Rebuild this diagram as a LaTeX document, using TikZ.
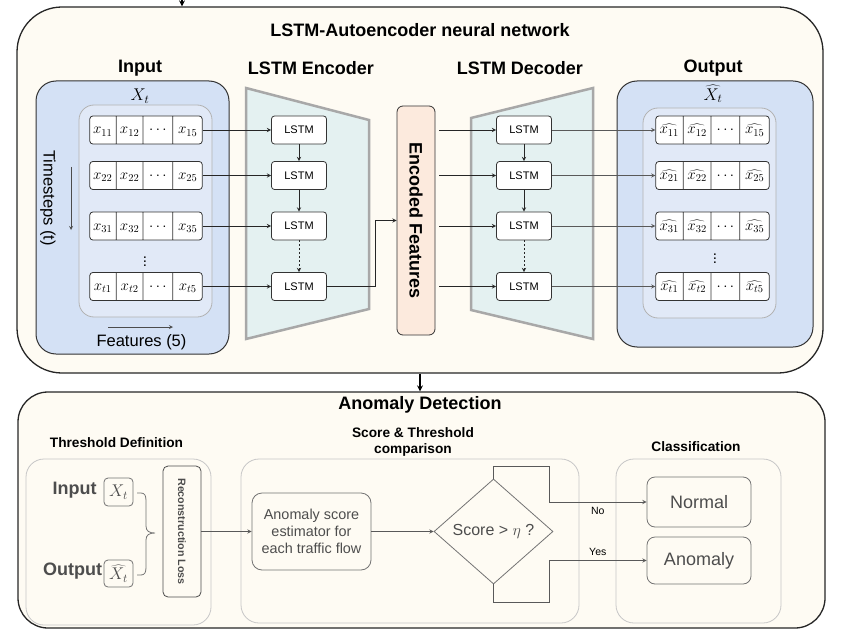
\documentclass[tikz,border=0pt]{standalone}
\usepackage{fix-cm}
\usepackage{fontspec}
\setmainfont{Liberation Sans}
\usepackage{tikz}
\usetikzlibrary{calc, shapes, arrows}

\definecolor{cream}{HTML}{FEFBF3}
\definecolor{inblue}{HTML}{D4E1F5}
\definecolor{inblue2}{HTML}{E1E9F7}
\definecolor{encteal}{HTML}{E4F1F1}
\definecolor{peach}{HTML}{FCEADD}
\definecolor{trapgray}{HTML}{A8A8A8}
\definecolor{txtgray}{HTML}{4D4D4D}
\newcommand{\fsize}[2]{\fontsize{#1pt}{#2pt}\selectfont}
\newcommand{\mkcell}[2]{\makebox[#1pt]{\rule[-10pt]{0pt}{28pt}#2}}

\begin{document}
\begin{tikzpicture}[x=1pt,y=-1pt]
\tikzstyle{panelbox}=[draw=black!85,line width=1.3pt,fill=cream,inner sep=0pt]
\tikzstyle{headtxt}=[font=\fsize{18}{21}\bfseries,inner sep=1pt]
\tikzstyle{subtxt}=[font=\fsize{13.7}{16}\bfseries,align=center,inner sep=1pt]
\tikzstyle{cellrow}=[rectangle split,rectangle split horizontal,rectangle split parts=4,draw=black!80,line width=0.8pt,rounded corners=3pt,fill=white,inner sep=0pt,font=\fsize{15}{18}]
\tikzstyle{lstm}=[draw=black!80,line width=0.8pt,rounded corners=3pt,fill=white,minimum width=55pt,minimum height=28pt,inner sep=0pt,font=\fsize{11}{13}]
\tikzstyle{card}=[draw=black!55,line width=0.8pt,rounded corners=8pt,fill=cream,text=txtgray,inner sep=0pt]
\tikzstyle{arr}=[-stealth,line width=0.9pt,black!85]
\tikzstyle{garr}=[-stealth,line width=0.9pt,black!65]
\tikzstyle{bigarr}=[-stealth,line width=1.6pt,black]

\useasboundingbox (0,0) rectangle (842,639);

% autoencoder panel
\node[panelbox,rounded corners=45pt,minimum width=806pt,minimum height=366pt] (ae) at (420,190) {};
\node[headtxt] (aeT) at (420,30) {LSTM-Autoencoder neural network};
\coordinate (feed) at (182,0);
\draw[bigarr] (feed) -- (feed |- ae.north);

% input block
\draw[fill=inblue,draw=black!80,line width=1pt,rounded corners=20pt] (36,81) rectangle (229,354);
\draw[fill=inblue2,draw=black!30,line width=0.8pt,rounded corners=15pt] (79,105) rectangle (212,317);
\node[headtxt] (inT) at (140,68) {Input};
\node[font=\fsize{17}{20},inner sep=1pt] (inX) at (140,96) {$X_t$};
\node[rotate=-90,font=\fsize{16.5}{19},inner sep=1pt] (tsT) at (48,198) {Timesteps (t)};
\coordinate (ts0) at (71,167);
\coordinate (ts1) at (71,230);
\draw[-stealth,line width=0.8pt,black!70] (ts0) -- (ts1);
\node[font=\fsize{16.5}{19},inner sep=1pt] (ftT) at (141.5,342) {Features (5)};
\coordinate (ft0) at (108,327);
\coordinate (ft1) at (173,327);
\draw[-stealth,line width=0.8pt,black!70] (ft0) -- (ft1);

\node[cellrow] (x1) at (146,130) {\mkcell{26}{$x_{11}$}\nodepart{two}\mkcell{26}{$x_{12}$}\nodepart{three}\mkcell{29}{$\cdots$}\nodepart{four}\mkcell{29}{$x_{15}$}};
\node[cellrow] (x2) at (146,175.5) {\mkcell{26}{$x_{22}$}\nodepart{two}\mkcell{26}{$x_{22}$}\nodepart{three}\mkcell{29}{$\cdots$}\nodepart{four}\mkcell{29}{$x_{25}$}};
\node[cellrow] (x3) at (146,226) {\mkcell{26}{$x_{31}$}\nodepart{two}\mkcell{26}{$x_{32}$}\nodepart{three}\mkcell{29}{$\cdots$}\nodepart{four}\mkcell{29}{$x_{35}$}};
\node[cellrow] (x4) at (146,286.5) {\mkcell{26}{$x_{t1}$}\nodepart{two}\mkcell{26}{$x_{t2}$}\nodepart{three}\mkcell{29}{$\cdots$}\nodepart{four}\mkcell{29}{$x_{t5}$}};
\node[font=\fsize{15}{18},inner sep=0pt] (xdots) at (145,259) {$\vdots$};

% encoder
\draw[fill=encteal,draw=trapgray,line width=2.5pt] (246,88) -- (369,120) -- (369,309) -- (246,339) -- cycle;
\node[headtxt] (encT) at (311,68) {LSTM Encoder};
\node[lstm] (e1) at (299,130) {LSTM};
\node[lstm] (e2) at (299,175.5) {LSTM};
\node[lstm] (e3) at (299,226) {LSTM};
\node[lstm] (e4) at (299,286.5) {LSTM};
\draw[arr] (x1.east) -- (e1.west);
\draw[arr] (x2.east) -- (e2.west);
\draw[arr] (x3.east) -- (e3.west);
\draw[arr] (x4.east) -- (e4.west);
\draw[arr] (e1) -- (e2);
\draw[arr] (e2) -- (e3);
\draw[arr,dash pattern=on 2pt off 2pt] (e3) -- (e4);

% encoded features
\node[draw=black!80,line width=0.8pt,fill=peach,rounded corners=6pt,minimum width=38pt,minimum height=229pt,inner sep=0pt,font=\fsize{18}{21}\bfseries] (ef) at (416,220.5) {\rotatebox{-90}{Encoded Features}};
\draw[arr] (e4.east) -- ++(49,0) |- (ef.west);

% decoder
\draw[fill=encteal,draw=trapgray,line width=2.5pt] (471,118) -- (593,88) -- (593,339) -- (471,310) -- cycle;
\node[headtxt] (decT) at (520,68) {LSTM Decoder};
\node[lstm] (d1) at (524,130) {LSTM};
\node[lstm] (d2) at (524,175.5) {LSTM};
\node[lstm] (d3) at (524,226) {LSTM};
\node[lstm] (d4) at (524,286.5) {LSTM};
\draw[arr,shorten <=4pt] (ef.east |- d1) -- (d1);
\draw[arr,shorten <=4pt] (ef.east |- d2) -- (d2);
\draw[arr,shorten <=4pt] (ef.east |- d3) -- (d3);
\draw[arr,shorten <=4pt] (ef.east |- d4) -- (d4);
\draw[arr] (d1) -- (d2);
\draw[arr] (d2) -- (d3);
\draw[arr,dash pattern=on 2pt off 2pt] (d3) -- (d4);

% output block
\draw[fill=inblue,draw=black!80,line width=1pt,rounded corners=20pt] (617,81) rectangle (813,347);
\draw[fill=inblue2,draw=black!30,line width=0.8pt,rounded corners=15pt] (643,108) rectangle (776,318);
\node[headtxt] (outT) at (713,68) {Output};
\node[font=\fsize{17}{20},inner sep=1pt] (outX) at (713,94) {$\widehat{X_t}$};
\node[cellrow] (o1) at (712.5,130) {\mkcell{27}{$\widehat{x_{11}}$}\nodepart{two}\mkcell{27}{$\widehat{x_{12}}$}\nodepart{three}\mkcell{28}{$\cdots$}\nodepart{four}\mkcell{29}{$\widehat{x_{15}}$}};
\node[cellrow] (o2) at (712.5,175.5) {\mkcell{27}{$\widehat{x_{21}}$}\nodepart{two}\mkcell{27}{$\widehat{x_{22}}$}\nodepart{three}\mkcell{28}{$\cdots$}\nodepart{four}\mkcell{29}{$\widehat{x_{25}}$}};
\node[cellrow] (o3) at (712.5,226) {\mkcell{27}{$\widehat{x_{31}}$}\nodepart{two}\mkcell{27}{$\widehat{x_{32}}$}\nodepart{three}\mkcell{28}{$\cdots$}\nodepart{four}\mkcell{29}{$\widehat{x_{35}}$}};
\node[cellrow] (o4) at (712.5,286.5) {\mkcell{27}{$\widehat{x_{t1}}$}\nodepart{two}\mkcell{27}{$\widehat{x_{t2}}$}\nodepart{three}\mkcell{28}{$\cdots$}\nodepart{four}\mkcell{29}{$\widehat{x_{t5}}$}};
\node[font=\fsize{15}{18},inner sep=0pt] (odots) at (715,256) {$\vdots$};
\draw[garr] (d1.east) -- (o1.west);
\draw[garr] (d2.east) -- (o2.west);
\draw[garr] (d3.east) -- (o3.west);
\draw[garr] (d4.east) -- (o4.west);

% anomaly detection panel
\node[panelbox,rounded corners=30pt,minimum width=807pt,minimum height=236pt] (ad) at (421.5,510) {};
\draw[bigarr] (ae.south) -- (ae.south |- ad.north);
\node[headtxt] (adT) at (420,405) {Anomaly Detection};
\draw[draw=black!22,line width=0.8pt,rounded corners=18pt] (26,459) rectangle (211,625);
\draw[draw=black!22,line width=0.8pt,rounded corners=18pt] (241,459) rectangle (579,623);
\draw[draw=black!22,line width=0.8pt,rounded corners=18pt] (616,459) rectangle (781,623);
\node[subtxt] (tdT) at (116.5,443) {Threshold Definition};
\node[subtxt] (scT) at (413,442) {Score \& Threshold\\comparison};
\node[subtxt] (clT) at (696,447) {Classification};

% threshold definition
\node[font=\fsize{18}{21}\bfseries,text=txtgray,inner sep=1pt] (tin) at (74.5,490) {Input};
\node[card,rounded corners=4pt,minimum width=29pt,minimum height=28pt,font=\fsize{17}{20}] (tinX) at (118.5,492) {$X_t$};
\node[font=\fsize{18}{21}\bfseries,text=txtgray,inner sep=0pt] (tout) at (72.5,571) {Output};
\node[card,rounded corners=4pt,minimum width=29pt,minimum height=27pt,font=\fsize{17}{20}] (toutX) at (118.5,573.5) {$\widehat{X_t}$};
\draw[black!55,line width=0.8pt] (137,493) -- (141,493) .. controls (145,493) and (146,496) .. (146,501) -- (146,526) .. controls (146,531) and (149,533) .. (155,533) .. controls (149,533) and (146,535) .. (146,540) -- (146,567) .. controls (146,572) and (145,575) .. (141,575) -- (137,575);
\node[card,draw=black!70,rounded corners=5pt,minimum width=38pt,minimum height=131pt,font=\fsize{10.7}{12}\bfseries] (rl) at (182,531.5) {\rotatebox{-90}{Reconstruction Loss}};

% score and threshold comparison
\node[card,rounded corners=10pt,minimum width=119pt,minimum height=77pt,align=center,font=\fsize{14.4}{17}] (as) at (311.5,531.5) {Anomaly score\\estimator for\\each traffic flow};
\draw[garr] (rl.east) -- (as.west);
\node[card,diamond,rounded corners=0pt,minimum width=119pt,minimum height=105pt,font=\fsize{16}{19}] (dia) at (493.5,531.5) {Score > $\eta$ ?};
\draw[garr] (as.east) -- (dia.west);

% classification
\node[card,minimum width=104pt,minimum height=50pt,font=\fsize{18}{21}] (nor) at (699,502) {Normal};
\node[card,minimum width=104pt,minimum height=47pt,font=\fsize{18}{21}] (ano) at (699,560.5) {Anomaly};
\coordinate (nob) at (549,466);
\coordinate (yesb) at (549,602);
\draw[garr] (dia.north) |- (nob) |- node[pos=0.75,below=1pt,font=\fsize{10.5}{12},text=black] (noT) {No} (nor.west);
\draw[garr] (dia.south) |- (yesb) |- node[pos=0.75,above=1pt,font=\fsize{10.5}{12},text=black] (yesT) {Yes} (ano.west);
\end{tikzpicture}
\end{document}
